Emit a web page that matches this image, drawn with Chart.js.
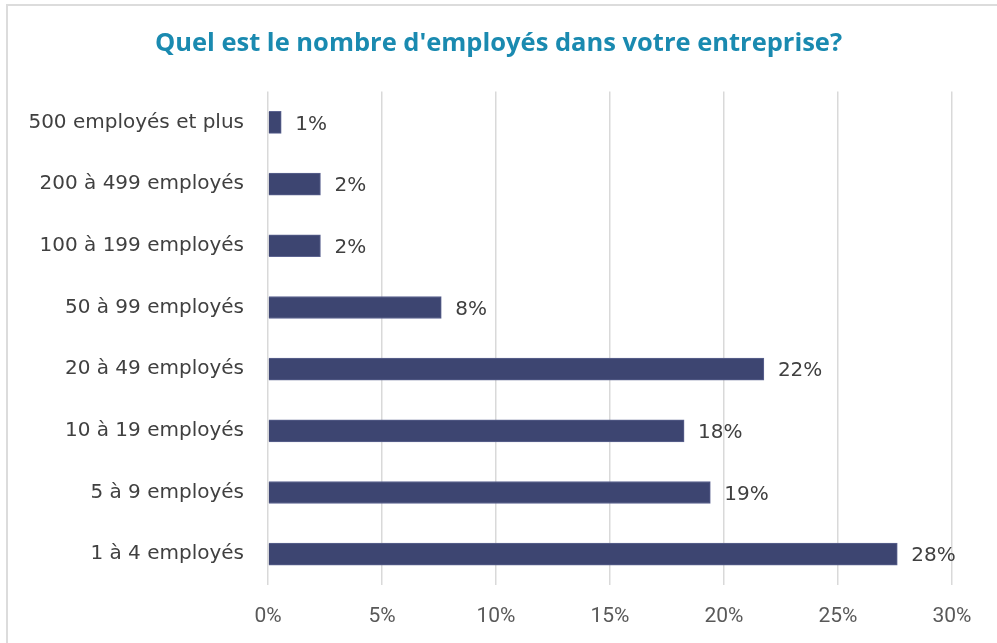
<!DOCTYPE html>
<html>
<head>
<meta charset="utf-8">
<script src="https://cdn.jsdelivr.net/npm/chart.js@4"></script>
<style>
  html, body { margin: 0; padding: 0; background: #fff; overflow: hidden; }
  .frame {
    position: absolute; left: 6px; top: 4px; width: 1100px; height: 800px;
    border: 2px solid #dcdcdc; box-sizing: border-box;
  }
  .wrap { position: absolute; left: 0; top: 0; width: 997px; height: 643px; }
</style>
</head>
<body>
<div class="frame"></div>
<div class="wrap"><canvas id="myChart" width="997" height="643"></canvas></div>
<script>
// data
const titleText = "Quel est le nombre d'employés dans votre entreprise?";
const categories = [
  '500 employés et plus',
  '200 à 499 employés',
  '100 à 199 employés',
  '50 à 99 employés',
  '20 à 49 employés',
  '10 à 19 employés',
  '5 à 9 employés',
  '1 à 4 employés'
];
const shares = [0.58, 2.3, 2.3, 7.6, 21.75, 18.25, 19.4, 27.6];
const tickValues = [0, 5, 10, 15, 20, 25, 30];

// draws the "28%" style labels at the end of each bar
const valueLabels = {
  id: 'valueLabels',
  afterDatasetsDraw(chart) {
    const ctx = chart.ctx;
    const meta = chart.getDatasetMeta(0);
    ctx.save();
    ctx.font = '20px "DejaVu Sans"';
    ctx.fillStyle = '#404040';
    ctx.textAlign = 'left';
    ctx.textBaseline = 'middle';
    meta.data.forEach((bar, i) => {
      ctx.fillText(Math.round(shares[i]) + '%', bar.x + 14, bar.y + 2);
    });
    ctx.restore();
  }
};

document.addEventListener('DOMContentLoaded', function () {
  createHorizontalBarChart(categories, shares);
});

function createHorizontalBarChart(labels, values) {
  const ctx = document.getElementById('myChart').getContext('2d');

  const myChart = new Chart(ctx, {
    type: 'bar',
    data: {
      labels: labels,
      datasets: [{
        data: values,
        backgroundColor: '#3d4571',
        borderColor: '#5d6491',
        borderWidth: 1,
        barThickness: 22
      }]
    },
    plugins: [valueLabels],
    options: {
      indexAxis: 'y',
      responsive: false,
      animation: false,
      layout: { padding: 0 },
      plugins: {
        legend: { display: false },
        tooltip: { enabled: false },
        title: {
          display: true,
          text: titleText,
          color: '#1a8ab0',
          font: { family: 'Open Sans', size: 25.5, weight: 'bold' },
          padding: { top: 28, bottom: 33 }
        }
      },
      scales: {
        x: {
          min: 0,
          max: 30,
          afterBuildTicks: function (scale) {
            scale.ticks = tickValues.map(v => ({ value: v }));
          },
          afterFit: function (scale) {
            scale.height = 58;
            scale.paddingRight = 45; // room right of the 30% line
          },
          grid: { color: '#d9d9d9', lineWidth: 1.5, drawTicks: false },
          border: { display: false },
          ticks: {
            padding: 19,
            color: '#595959',
            font: { family: 'Roboto', size: 21 },
            callback: function (v) { return v + '%'; }
          }
        },
        y: {
          afterFit: function (scale) { scale.width = 268; },
          grid: { display: false, drawTicks: false },
          border: { display: false },
          ticks: {
            padding: 24,
            color: '#404040',
            font: { family: 'DejaVu Sans', size: 20 }
          }
        }
      }
    }
  });
}
</script>
</body>
</html>
